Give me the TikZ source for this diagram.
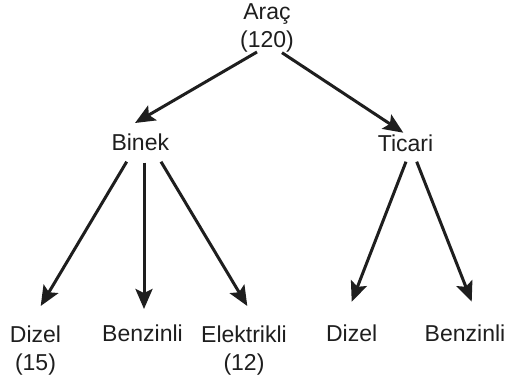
\documentclass[tikz,border=0pt]{standalone}
\usepackage{fontspec}
\setmainfont{Liberation Sans}
\usetikzlibrary{arrows.meta}
\definecolor{ink}{HTML}{1E1E1E}
\tikzset{
  lbl/.style={inner sep=0pt, align=center, text=ink, anchor=base,
    font=\fontsize{23}{28}\selectfont},
  arr/.style={draw=ink, line width=3pt,
    -{Stealth[length=20pt,width=17pt,inset=4pt]}}
}
\begin{document}
\begin{tikzpicture}[x=1pt,y=-1pt]
\useasboundingbox (0,0) rectangle (509,378);
\node[lbl] (arac) at (267,47.5) {Araç\\(120)};
\node[lbl] (binek) at (140.3,150.7) {Binek};
\node[lbl] (ticari) at (405.5,151.7) {Ticari};
\node[lbl] (bdizel) at (35.5,370) {Dizel\\(15)};
\node[lbl] (bbenz) at (142.5,341.7) {Benzinli};
\node[lbl] (belek) at (244,370) {Elektrikli\\(12)};
\node[lbl] (tdizel) at (351.7,341.7) {Dizel};
\node[lbl] (tbenz) at (465,341.7) {Benzinli};
% connector ends
\coordinate (a1) at (257,52);
\coordinate (a2) at (282,52.7);
\coordinate (bt) at (135,123);
\coordinate (tt) at (403.3,132.7);
\coordinate (b1) at (126.7,161.7);
\coordinate (b2) at (144,162.7);
\coordinate (b3) at (161,161.7);
\coordinate (d1) at (40.7,306);
\coordinate (d2) at (144,309);
\coordinate (d3) at (247.3,306);
\coordinate (t1) at (406,161.7);
\coordinate (t2) at (416.7,161.7);
\coordinate (e1) at (351.7,301.7);
\coordinate (e2) at (471.7,301.7);
\draw[arr] (a1) -- (bt);
\draw[arr] (a2) -- (tt);
\draw[arr] (b1) -- (d1);
\draw[arr] (b2) -- (d2);
\draw[arr] (b3) -- (d3);
\draw[arr] (t1) -- (e1);
\draw[arr] (t2) -- (e2);
\end{tikzpicture}
\end{document}
